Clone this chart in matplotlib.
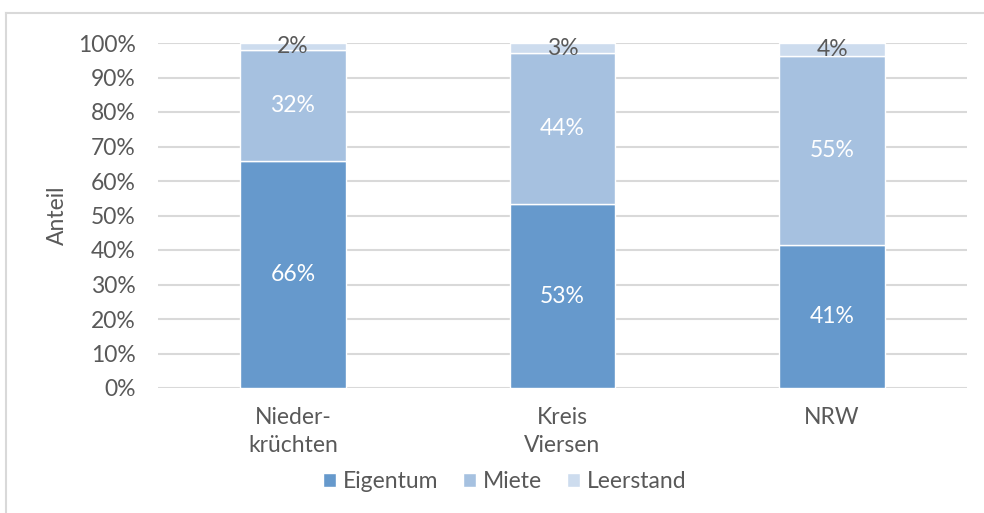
import matplotlib
matplotlib.use("Agg")
import matplotlib.pyplot as plt
from matplotlib.lines import Line2D
import numpy as np

categories = ["Nieder-\nkrüchten", "Kreis\nViersen", "NRW"]
eigentum = [65.8, 53.3, 41.4]
miete = [32.2, 43.8, 54.7]
leerstand = [2.0, 2.9, 3.9]
label_eigentum = ["66%", "53%", "41%"]
label_miete = ["32%", "44%", "55%"]
label_leer = ["2%", "3%", "4%"]
yticks = [0, 10, 20, 30, 40, 50, 60, 70, 80, 90, 100]

plt.rcParams['font.family'] = ['Lato', 'DejaVu Sans']
TXT = '#595959'
C1, C2, C3 = '#6699CC', '#A6C1E0', '#CDDCEE'
FS = 16.5
FW = 'normal'

fig = plt.figure(figsize=(9.84, 5.13), dpi=100)
ax = fig.add_axes([158/984, 1-388/513, (967-158)/984, (388-43)/513])

x = np.arange(len(categories))
w = 0.393
b1 = ax.bar(x, eigentum, w, color=C1, edgecolor='white', linewidth=1, zorder=3, label='Eigentum')
b2 = ax.bar(x, miete, w, bottom=eigentum, color=C2, edgecolor='white', linewidth=1, zorder=3, label='Miete')
bot3 = np.array(eigentum) + np.array(miete)
b3 = ax.bar(x, leerstand, w, bottom=bot3, color=C3, edgecolor='white', linewidth=1, zorder=3, label='Leerstand')

ax.bar_label(b1, labels=label_eigentum, label_type='center', color='white', fontsize=FS, fontweight=FW)
ax.bar_label(b2, labels=label_miete, label_type='center', color='white', fontsize=FS, fontweight=FW)
ax.bar_label(b3, labels=label_leer, label_type='center', color=TXT, fontsize=FS, fontweight=FW)

ax.set_xlim(-0.5, len(categories) - 0.5)
ax.set_ylim(0, 100)
ax.set_yticks(yticks)
ax.set_yticklabels([f"{v}%" for v in yticks])
ax.set_xticks(x)
ax.set_xticklabels(categories, linespacing=1.4)
ax.tick_params(axis='both', length=0, labelsize=FS, labelcolor=TXT)
ax.tick_params(axis='y', pad=16)
ax.tick_params(axis='x', pad=14)
for lab in ax.get_xticklabels() + ax.get_yticklabels():
    lab.set_fontweight(FW)
ax.grid(axis='y', color='#D9D9D9', linewidth=1.5, zorder=0)
for s in ax.spines.values():
    s.set_visible(False)

fig.text(57/984, 1-215/513, "Anteil", rotation=90, ha='center', va='center', color=TXT, fontsize=FS, fontweight=FW)

leg = fig.legend(handles=[b1, b2, b3], labels=['Eigentum', 'Miete', 'Leerstand'],
                 loc='center', bbox_to_anchor=(0.513, 1-482/513), ncol=3, frameon=False,
                 fontsize=FS, handlelength=0.55, handleheight=0.55, handletextpad=0.3,
                 columnspacing=1.1)
for t in leg.get_texts():
    t.set_color(TXT)
    t.set_fontweight(FW)

# outer chart frame
fig.add_artist(Line2D([6/984, 1.0], [1-13/513, 1-13/513], color='#D9D9D9', linewidth=1.5, transform=fig.transFigure))
fig.add_artist(Line2D([6/984, 6/984], [0, 1-13/513], color='#D9D9D9', linewidth=1.5, transform=fig.transFigure))

fig.savefig("out.png", dpi=100)
